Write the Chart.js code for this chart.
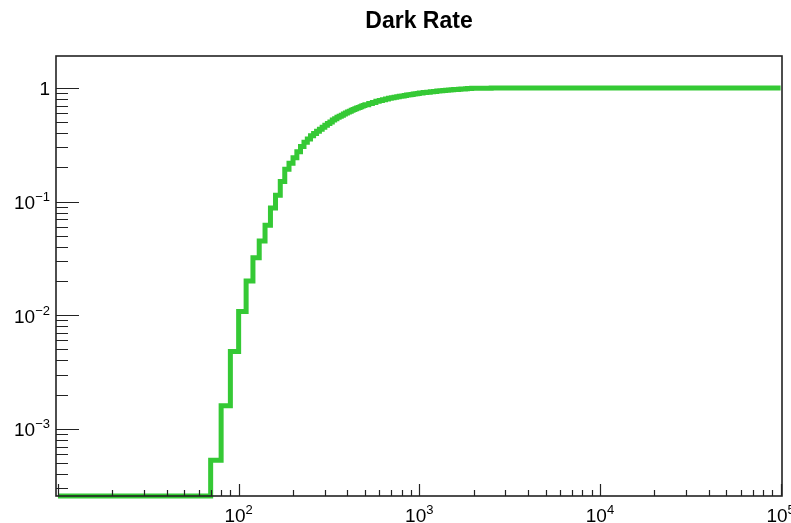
<!DOCTYPE html>
<html>
<head>
<meta charset="utf-8">
<title>Dark Rate</title>
<script src="https://cdn.jsdelivr.net/npm/chart.js@4.4.1/dist/chart.umd.min.js"></script>
<style>
  html, body { margin: 0; padding: 0; background: #fff; }
  canvas { display: block; }
</style>
</head>
<body>
<canvas id="darkRate" width="791" height="523"></canvas>
<script>
// left edges of the histogram bins (10 wide up to 500, wider after that)
const binEdges = [
  10, 20, 30, 40, 50, 60, 70, 80, 90, 100,
  110, 120, 130, 140, 150, 160, 170, 180, 190, 200,
  210, 220, 230, 240, 250, 260, 270, 280, 290, 300,
  310, 320, 330, 340, 350, 360, 370, 380, 390, 400,
  410, 420, 430, 440, 450, 460, 470, 480, 490,
  500, 525, 550, 575, 600, 625, 650, 675, 700, 725,
  750, 775, 800, 825, 850, 875, 900, 925, 950, 975,
  1000, 1050, 1100, 1150, 1200, 1250, 1300, 1350, 1400, 1450,
  1500, 1550, 1600, 1650, 1700, 1750, 1800, 1850, 1900, 1950,
  2000, 2500, 100000
];
// content of each bin (0 = empty bin, drawn on the frame floor)
const rateValues = [
  0, 0, 0, 0, 0, 0, 0.00053, 0.0016, 0.0048, 0.0108,
  0.020, 0.032, 0.045, 0.062, 0.088, 0.114, 0.150, 0.193, 0.218, 0.243,
  0.275, 0.305, 0.332, 0.356, 0.379, 0.398, 0.415, 0.432, 0.451, 0.470,
  0.487, 0.502, 0.522, 0.537, 0.551, 0.564, 0.576, 0.589, 0.601, 0.613,
  0.624, 0.635, 0.645, 0.655, 0.665, 0.674, 0.683, 0.692, 0.700,
  0.710, 0.728, 0.745, 0.762, 0.777, 0.789, 0.800, 0.810, 0.819, 0.828,
  0.836, 0.844, 0.851, 0.858, 0.865, 0.871, 0.877, 0.883, 0.889, 0.895,
  0.903, 0.911, 0.918, 0.925, 0.932, 0.938, 0.944, 0.949, 0.954, 0.959,
  0.963, 0.967, 0.971, 0.975, 0.978, 0.981, 0.984, 0.987, 0.990, 0.992,
  0.995, 1.0, 1.0
];

// axis ranges and labelled ticks
const xMin = 9.75, xMax = 101800;
const yMin = 0.000257, yMax = 1.91;
const xTickValues = [100, 1000, 10000, 100000];
const xTickExp = ['2', '3', '4', '5'];
const yTickValues = [1, 0.1, 0.01, 0.001];
const yTickBase = ['1', '10', '10', '10'];
const yTickExp = ['', '\u22121', '\u22122', '\u22123'];

const FONT = "'Liberation Sans', Arial, Helvetica, sans-serif";

function drawPower(ctx, base, exp, left, baseline) {
  ctx.font = '19px ' + FONT;
  ctx.fillText(base, left, baseline);
  const w = ctx.measureText(base).width;
  if (exp) {
    ctx.font = '13px ' + FONT;
    ctx.fillText(exp, left + w, baseline - 8);
  }
}

function powerWidth(ctx, base, exp) {
  ctx.font = '19px ' + FONT;
  let w = ctx.measureText(base).width;
  if (exp) {
    ctx.font = '13px ' + FONT;
    w += ctx.measureText(exp).width;
  }
  return w;
}

// ROOT-like frame: box, inner ticks, 10^n labels, title
const rootFrame = {
  id: 'rootFrame',
  afterDatasetsDraw(chart) {
    const { ctx, chartArea: a, scales: { x, y } } = chart;
    ctx.save();
    ctx.strokeStyle = '#222';
    ctx.lineWidth = 1.6;
    ctx.strokeRect(a.left, a.top, a.right - a.left, a.bottom - a.top);

    ctx.lineWidth = 1.2;
    ctx.beginPath();
    for (let e = -4; e <= 0; e++) {
      for (let m = 1; m <= 9; m++) {
        const v = m * Math.pow(10, e);
        if (v < y.min || v > y.max) continue;
        const py = Math.round(y.getPixelForValue(v)) + 0.5;
        ctx.moveTo(a.left, py);
        ctx.lineTo(a.left + (m === 1 ? 23 : 12), py);
      }
    }
    for (let e = 0; e <= 5; e++) {
      for (let m = 1; m <= 9; m++) {
        const v = m * Math.pow(10, e);
        if (v < x.min || v > x.max) continue;
        const px = Math.round(x.getPixelForValue(v)) + 0.5;
        ctx.moveTo(px, a.bottom);
        ctx.lineTo(px, a.bottom - (m === 1 ? 12 : 6));
      }
    }
    ctx.stroke();

    ctx.fillStyle = '#000';
    ctx.textBaseline = 'alphabetic';
    ctx.textAlign = 'left';
    xTickValues.forEach((v, i) => {
      const px = x.getPixelForValue(v);
      const w = powerWidth(ctx, '10', xTickExp[i]);
      drawPower(ctx, '10', xTickExp[i], px - w / 2, 521.5);
    });
    yTickValues.forEach((v, i) => {
      const py = y.getPixelForValue(v);
      const w = powerWidth(ctx, yTickBase[i], yTickExp[i]);
      drawPower(ctx, yTickBase[i], yTickExp[i], 50 - w, py + 7.5);
    });

    ctx.font = 'bold 23px ' + FONT;
    ctx.textAlign = 'center';
    ctx.fillText('Dark Rate', (a.left + a.right) / 2, 28);
    ctx.restore();
  }
};

new Chart(document.getElementById('darkRate'), {
  type: 'line',
  data: {
    datasets: [{
      data: binEdges.map((e, i) => ({ x: e, y: rateValues[i] > 0 ? rateValues[i] : yMin })),
      stepped: true,
      borderColor: '#35c935',
      borderWidth: 5,
      borderCapStyle: 'butt',
      borderJoinStyle: 'miter',
      pointRadius: 0,
      fill: false,
      clip: false
    }]
  },
  options: {
    responsive: false,
    animation: false,
    devicePixelRatio: 1,
    parsing: false,
    layout: { padding: { left: 56, right: 9, top: 56, bottom: 27 } },
    plugins: { legend: { display: false }, tooltip: { enabled: false }, title: { display: false } },
    scales: {
      x: { type: 'logarithmic', min: xMin, max: xMax, display: false },
      y: { type: 'logarithmic', min: yMin, max: yMax, display: false }
    }
  },
  plugins: [rootFrame]
});
</script>
</body>
</html>
